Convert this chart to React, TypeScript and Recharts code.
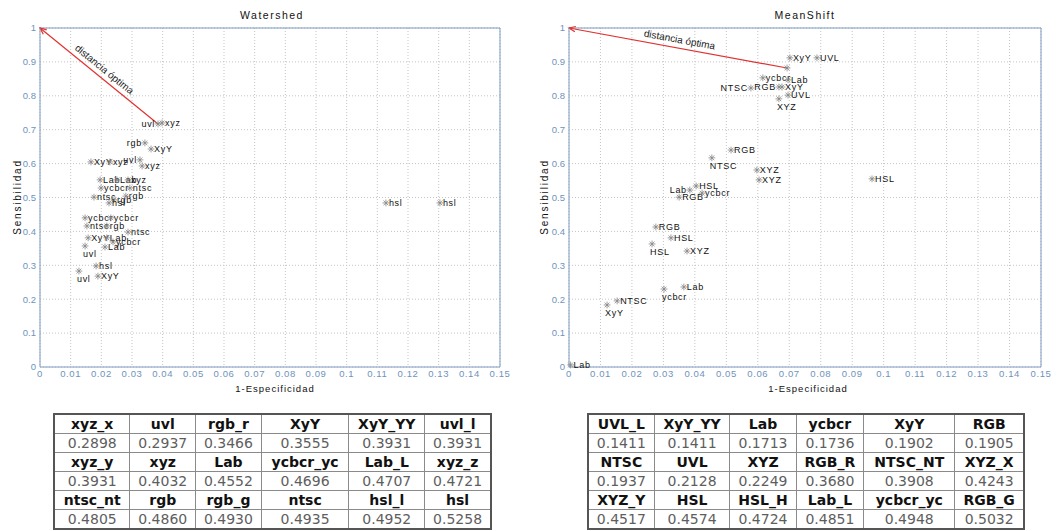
import React from 'react';
import { ScatterChart, Scatter, XAxis, YAxis, CartesianGrid, ReferenceLine } from 'recharts';

// axis ticks shared by both plots
const X_TICKS = [0, 0.01, 0.02, 0.03, 0.04, 0.05, 0.06, 0.07, 0.08, 0.09, 0.1, 0.11, 0.12, 0.13, 0.14, 0.15];
const Y_TICKS = [0, 0.1, 0.2, 0.3, 0.4, 0.5, 0.6, 0.7, 0.8, 0.9, 1];

// Watershed: 1-especificidad / sensibilidad per color space
const WS_LABELS = ['uvl', 'xyz', 'rgb', 'XyY', 'XyY', 'xyz', 'uvl', 'xyz', 'Lab', 'Lab', 'xyz', 'ycbcr', 'ntsc', 'ntsc', 'rgb', 'rgb', 'hsl', 'ycbcr', 'ycbcr', 'ntsc', 'rgb', 'ntsc', 'XyY', 'Lab', 'ycbcr', 'Lab', 'uvl', 'hsl', 'uvl', 'XyY', 'hsl', 'hsl'];
const WS_X = [0.0385, 0.0398, 0.0342, 0.0362, 0.0166, 0.0228, 0.0326, 0.0333, 0.0196, 0.0251, 0.0287, 0.0199, 0.0293, 0.0176, 0.0241, 0.028, 0.0225, 0.0147, 0.0231, 0.0153, 0.0218, 0.0287, 0.0157, 0.0218, 0.0238, 0.0212, 0.0147, 0.0183, 0.0127, 0.0189, 0.1128, 0.1304];
const WS_Y = [0.717, 0.72, 0.661, 0.643, 0.605, 0.605, 0.611, 0.593, 0.552, 0.552, 0.552, 0.528, 0.528, 0.501, 0.493, 0.504, 0.484, 0.44, 0.44, 0.416, 0.416, 0.398, 0.381, 0.381, 0.369, 0.354, 0.357, 0.298, 0.283, 0.268, 0.484, 0.484];
const WS_SIDE = ['l', 'r', 'l', 'r', 'r', 'r', 'l', 'r', 'r', 'r', 'r', 'r', 'r', 'r', 'r', 'r', 'r', 'r', 'r', 'r', 'r', 'r', 'r', 'r', 'r', 'r', 'b', 'r', 'b', 'r', 'r', 'r'];
const WS_BEST = [0.0385, 0.717];

// MeanShift
const MS_LABELS = ['XyY', 'UVL', '', 'ycbcr', 'Lab', 'NTSC', 'RGB', 'XyY', 'UVL', 'XYZ', 'RGB', 'NTSC', 'XYZ', 'XYZ', 'Lab', 'HSL', 'RGB', 'ycbcr', 'RGB', 'HSL', 'HSL', 'XYZ', 'ycbcr', 'Lab', 'NTSC', 'XyY', 'Lab', 'HSL'];
const MS_X = [0.0702, 0.0788, 0.0693, 0.0616, 0.0696, 0.0578, 0.0667, 0.0677, 0.0696, 0.0667, 0.0515, 0.0454, 0.0597, 0.0604, 0.0384, 0.0404, 0.035, 0.0423, 0.0276, 0.0324, 0.0264, 0.0375, 0.0302, 0.0365, 0.0153, 0.0121, 0.0005, 0.0963];
const MS_Y = [0.912, 0.912, 0.882, 0.853, 0.847, 0.823, 0.826, 0.826, 0.802, 0.791, 0.64, 0.617, 0.581, 0.552, 0.522, 0.534, 0.501, 0.513, 0.413, 0.381, 0.363, 0.342, 0.23, 0.236, 0.195, 0.183, 0.006, 0.555];
const MS_SIDE = ['r', 'r', 'r', 'r', 'r', 'l', 'l', 'r', 'r', 'b', 'r', 'b', 'r', 'r', 'l', 'r', 'r', 'r', 'r', 'r', 'b', 'r', 'b', 'r', 'r', 'b', 'r', 'r'];
const MS_BEST = [0.0693, 0.882];

// distance tables
const WS_TABLE_NAMES = ['xyz_x', 'uvl', 'rgb_r', 'XyY', 'XyY_YY', 'uvl_l', 'xyz_y', 'xyz', 'Lab', 'ycbcr_yc', 'Lab_L', 'xyz_z', 'ntsc_nt', 'rgb', 'rgb_g', 'ntsc', 'hsl_l', 'hsl'];
const WS_TABLE_VALUES = [0.2898, 0.2937, 0.3466, 0.3555, 0.3931, 0.3931, 0.3931, 0.4032, 0.4552, 0.4696, 0.4707, 0.4721, 0.4805, 0.486, 0.493, 0.4935, 0.4952, 0.5258];
const MS_TABLE_NAMES = ['UVL_L', 'XyY_YY', 'Lab', 'ycbcr', 'XyY', 'RGB', 'NTSC', 'UVL', 'XYZ', 'RGB_R', 'NTSC_NT', 'XYZ_X', 'XYZ_Y', 'HSL', 'HSL_H', 'Lab_L', 'ycbcr_yc', 'RGB_G'];
const MS_TABLE_VALUES = [0.1411, 0.1411, 0.1713, 0.1736, 0.1902, 0.1905, 0.1937, 0.2128, 0.2249, 0.368, 0.3908, 0.4243, 0.4517, 0.4574, 0.4724, 0.4851, 0.4948, 0.5032];

const AXIS_BLUE = '#7c9cc0';
const TICK_BLUE = '#6f93bb';
const FONT = '"Liberation Sans", Arial, sans-serif';

const fmt = (v: number) => String(Number(v.toFixed(2)));

function StarPoint(props: any) {
  const { cx, cy, payload } = props;
  if (cx == null || cy == null) return null;
  const r = 3.4;
  const d = 2.4;
  let tx = cx + 3, ty = cy + 3, anchor = 'start';
  if (payload.side === 'l') { tx = cx - 3; anchor = 'end'; }
  if (payload.side === 'b') { tx = cx - 2; ty = cy + 11; }
  return (
    <g>
      <g stroke="#858585" strokeWidth={0.8}>
        <line x1={cx - r} y1={cy} x2={cx + r} y2={cy} />
        <line x1={cx} y1={cy - r} x2={cx} y2={cy + r} />
        <line x1={cx - d} y1={cy - d} x2={cx + d} y2={cy + d} />
        <line x1={cx - d} y1={cy + d} x2={cx + d} y2={cy - d} />
      </g>
      {payload.label ? (
        <text x={tx} y={ty} textAnchor={anchor} fontSize={9} fontFamily={FONT} letterSpacing={0.7} fill="#111">
          {payload.label}
        </text>
      ) : null}
    </g>
  );
}

function ArrowShape(props: any) {
  const { x1, y1, x2, y2 } = props;
  if (x1 == null) return null;
  // x2,y2 is the (0,1) corner
  const ang = Math.atan2(y1 - y2, x1 - x2);
  const deg = (ang * 180) / Math.PI;
  const h = 7;
  const a1 = ang + 0.4, a2 = ang - 0.4;
  const mx = (x1 + x2) / 2 + Math.sin(ang) * 5;
  const my = (y1 + y2) / 2 - Math.cos(ang) * 5;
  return (
    <g>
      <line x1={x1} y1={y1} x2={x2} y2={y2} stroke="#e0312f" strokeWidth={1.2} />
      <polyline
        points={`${x2 + Math.cos(a1) * h},${y2 + Math.sin(a1) * h} ${x2},${y2} ${x2 + Math.cos(a2) * h},${y2 + Math.sin(a2) * h}`}
        fill="none"
        stroke="#e0312f"
        strokeWidth={1.2}
      />
      <text
        x={mx}
        y={my}
        textAnchor="middle"
        fontSize={10}
        fontFamily={FONT}
        fill="#222"
        transform={`rotate(${deg} ${mx} ${my})`}
      >
        distancia óptima
      </text>
    </g>
  );
}

function Plot({ labels, xs, ys, sides, best, width, marginLeft, marginRight }: any) {
  const data = labels.map((label: string, i: number) => ({ label, x: xs[i], y: ys[i], side: sides[i] }));
  return (
    <ScatterChart width={width} height={400} margin={{ top: 28, right: marginRight, bottom: 0, left: marginLeft }}>
      <CartesianGrid strokeDasharray="1 2" stroke="#c4c4c4" />
      <XAxis
        type="number"
        dataKey="x"
        domain={[0, 0.15]}
        ticks={X_TICKS}
        tickFormatter={fmt}
        interval={0}
        height={33}
        tickLine={false}
        tickSize={3}
        tickMargin={0}
        axisLine={{ stroke: AXIS_BLUE }}
        tick={{ fill: TICK_BLUE, fontSize: 9.5, fontFamily: FONT, letterSpacing: 0.6 }}
      />
      <YAxis
        type="number"
        dataKey="y"
        domain={[0, 1]}
        ticks={Y_TICKS}
        tickFormatter={fmt}
        interval={0}
        width={30}
        tickLine={false}
        tickSize={3}
        tickMargin={1}
        axisLine={{ stroke: AXIS_BLUE }}
        tick={{ fill: TICK_BLUE, fontSize: 9.5, fontFamily: FONT }}
      />
      <ReferenceLine x={0.15} stroke={AXIS_BLUE} />
      <ReferenceLine y={1} stroke={AXIS_BLUE} />
      <ReferenceLine
        segment={[{ x: best[0], y: best[1] }, { x: 0, y: 1 }]}
        ifOverflow="visible"
        shape={ArrowShape}
      />
      <Scatter data={data} shape={StarPoint} isAnimationActive={false} />
    </ScatterChart>
  );
}

function DistTable({ names, values, left, width }: any) {
  const rows = [0, 1, 2].map((r) => names.slice(r * 6, r * 6 + 6).map((n: string, i: number) => ({ n, v: values[r * 6 + i] })));
  const cell: React.CSSProperties = {
    border: '1px solid #8a8a8a',
    textAlign: 'center',
    padding: '0 2px',
    height: 18,
    lineHeight: '18px',
    whiteSpace: 'nowrap',
  };
  return (
    <table
      style={{
        position: 'absolute',
        left,
        top: 413,
        width,
        borderCollapse: 'collapse',
        border: '2px solid #555',
        fontFamily: '"DejaVu Sans", Verdana, sans-serif',
        fontSize: 14,
      }}
    >
      <tbody>
        {rows.map((row, ri) => (
          <React.Fragment key={ri}>
            <tr>
              {row.map((c: any, ci: number) => (
                <td key={ci} style={{ ...cell, fontWeight: 'bold', color: '#111' }}>{c.n}</td>
              ))}
            </tr>
            <tr>
              {row.map((c: any, ci: number) => (
                <td key={ci} style={{ ...cell, color: '#5e5e5e' }}>{c.v.toFixed(4)}</td>
              ))}
            </tr>
          </React.Fragment>
        ))}
      </tbody>
    </table>
  );
}

export default function App() {
  return (
    <div style={{ position: 'absolute', left: 0, top: 0, width: 1058, height: 531, background: '#fff', overflow: 'hidden' }}>
      <div style={{ position: 'absolute', left: 0, top: 0 }}>
        <Plot labels={WS_LABELS} xs={WS_X} ys={WS_Y} sides={WS_SIDE} best={WS_BEST} width={520} marginLeft={10} marginRight={20} />
      </div>
      <div style={{ position: 'absolute', left: 530, top: 0 }}>
        <Plot labels={MS_LABELS} xs={MS_X} ys={MS_Y} sides={MS_SIDE} best={MS_BEST} width={528} marginLeft={9} marginRight={17} />
      </div>
      <svg width={1058} height={400} style={{ position: 'absolute', left: 0, top: 0, pointerEvents: 'none' }}>
        <g fontFamily={FONT} fill="#111">
          <text x={272} y={19} textAnchor="middle" fontSize={10.5} letterSpacing={1.5}>Watershed</text>
          <text x={805} y={19} textAnchor="middle" fontSize={10.5} letterSpacing={1.5}>MeanShift</text>
          <text x={275} y={392} textAnchor="middle" fontSize={9.5} letterSpacing={1}>1-Especificidad</text>
          <text x={808} y={392} textAnchor="middle" fontSize={9.5} letterSpacing={1}>1-Especificidad</text>
          <text x={21} y={197} textAnchor="middle" fontSize={10} letterSpacing={1.8} transform="rotate(-90 21 197)">Sensibilidad</text>
          <text x={548} y={197} textAnchor="middle" fontSize={10} letterSpacing={1.8} transform="rotate(-90 548 197)">Sensibilidad</text>
        </g>
      </svg>
      <DistTable names={WS_TABLE_NAMES} values={WS_TABLE_VALUES} left={53} width={439} />
      <DistTable names={MS_TABLE_NAMES} values={MS_TABLE_VALUES} left={587} width={438} />
    </div>
  );
}
